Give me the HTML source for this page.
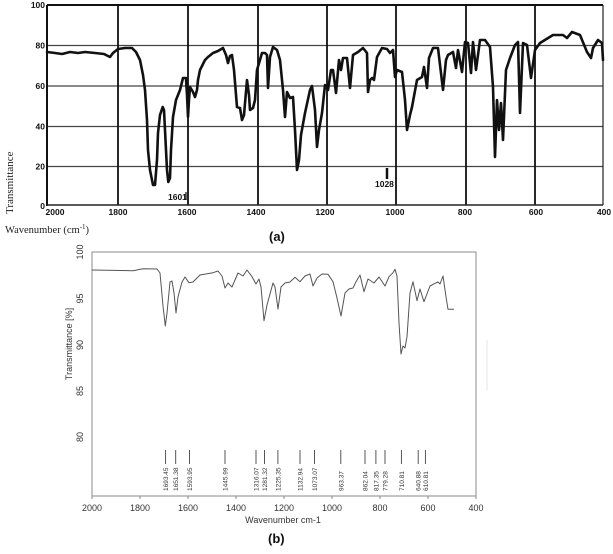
<!DOCTYPE html>
<html><head><meta charset="utf-8"><style>
html,body{margin:0;padding:0;background:#fff;}
svg{display:block;}
</style></head><body>
<svg width="613" height="554" viewBox="0 0 613 554" xmlns="http://www.w3.org/2000/svg">
<rect width="613" height="554" fill="#fff"/>
<!-- Chart (a) -->
<g>
<g stroke="#444" stroke-width="1.3">
<line x1="47" y1="45.5" x2="603" y2="45.5"/>
<line x1="47" y1="86" x2="603" y2="86"/>
<line x1="47" y1="126.5" x2="603" y2="126.5"/>
<line x1="47" y1="166.5" x2="603" y2="166.5"/>
</g>
<g stroke="#111" stroke-width="1.8">
<line x1="118" y1="5" x2="118" y2="205"/>
<line x1="188" y1="5" x2="188" y2="205"/>
<line x1="258" y1="5" x2="258" y2="205"/>
<line x1="327" y1="5" x2="327" y2="205"/>
<line x1="396" y1="5" x2="396" y2="205"/>
<line x1="466" y1="5" x2="466" y2="205"/>
<line x1="535" y1="5" x2="535" y2="205"/>
</g>
<line x1="47" y1="5" x2="603" y2="5" stroke="#111" stroke-width="2"/>
<line x1="47" y1="5" x2="47" y2="206" stroke="#111" stroke-width="2"/>
<line x1="47" y1="205" x2="603" y2="205" stroke="#222" stroke-width="1.5"/>
<line x1="603" y1="5" x2="603" y2="205" stroke="#222" stroke-width="1.2"/>
<polyline fill="none" stroke="#111" stroke-width="2.6" stroke-linejoin="round" stroke-linecap="round" points="47,52 55,53 62,54 70,52 78,53 85,52 95,53 104,54 108,56 110,57 113,53 118,49 125,48 132,48 136,52 140,60 143,75 145,90 147,120 148,150 150,170 153,185 155,185 157,160 158,133 160,115 162.7,107 164,110 165,130 167,170 168.3,182 170,178 171,150 173,117 176,100 180,90 183,78 186,78 187,95 188,117 189,100 190,87 193,92 195,97 197,90 198,80 200,70 205,60 208,57 213,53 218,51 223,48 226,55 228,63 230,56 232,55 234,70 237,107 240,108 242,120 244,115 247,80 249,95 250,110 253,108 255,100 257,70 262,53 265,53 267,55 268,88 270,57 273,47 277,50 280,60 283,90 285,117 287,92 290,98 293,97 295,130 297,170 299,160 301,135 305,113 310,90 312,86 315,110 317,147 319,130 322,113 325,85 328,90 331,70 333,70 336,93 339,60 341,70 343,58 347,58 350,88 353,55 358,52 363,48 367,53 368,92 370,80 372,78 374,80 377,57 382,48 387,49 390,53 393,50 395,77 397,70 402,72 405,100 407,130 410,115 412,107 417,80 422,77 424,67 427,88 429,58 433,48 438,48 443,90 446,60 448,55 453,52 456,68 458,50 462,72 465,42 468,43 471,73 473,42 476,70 480,40 485,40 490,47 493,87 495,157 497,100 499,130 501,103 503,140 506,70 510,58 515,45 518,42 520,113 523,43 527,45 531,78 535,50 540,43 553,35 563,35 567,38 572,32 580,35 587,52 591,58 593,48 598,40 602,43 603,60"/>
<line x1="186" y1="192" x2="186" y2="200" stroke="#111" stroke-width="1.2"/>
<line x1="387" y1="168" x2="387" y2="179" stroke="#111" stroke-width="2.5"/>
<g font-family="Liberation Sans, sans-serif" font-weight="bold" font-size="8.5" fill="#111">
<text x="168" y="200">1601</text>
<text x="375" y="187">1028</text>
<g text-anchor="end">
<text x="45" y="8">100</text>
<text x="45" y="48.5">80</text>
<text x="45" y="89">60</text>
<text x="45" y="129.5">40</text>
<text x="45" y="169.5">20</text>
<text x="45" y="209">0</text>
</g>
<g text-anchor="middle">
<text x="55" y="215">2000</text>
<text x="118" y="215">1800</text>
<text x="187" y="215">1600</text>
<text x="256" y="215">1400</text>
<text x="325" y="215">1200</text>
<text x="395" y="215">1000</text>
<text x="465" y="215">800</text>
<text x="536" y="215">600</text>
<text x="604" y="215">400</text>
</g>
</g>
<text transform="translate(13,214) rotate(-90)" font-family="Liberation Serif, serif" font-size="11" fill="#222">Transmittance</text>
<text x="5" y="233" font-family="Liberation Serif, serif" font-size="10.5" fill="#222">Wavenumber (cm<tspan font-size="7" dy="-4">-1</tspan><tspan dy="4">)</tspan></text>
<text x="269" y="241" font-family="Liberation Sans, sans-serif" font-weight="bold" font-size="13" fill="#111">(a)</text>
</g>
<!-- Chart (b) -->
<g>
<rect x="92" y="252" width="384" height="244" fill="none" stroke="#888" stroke-width="1"/>
<g stroke="#888" stroke-width="1">
<line x1="92" y1="496" x2="92" y2="499"/>
<line x1="140" y1="496" x2="140" y2="499"/>
<line x1="188" y1="496" x2="188" y2="499"/>
<line x1="236" y1="496" x2="236" y2="499"/>
<line x1="284" y1="496" x2="284" y2="499"/>
<line x1="332" y1="496" x2="332" y2="499"/>
<line x1="380" y1="496" x2="380" y2="499"/>
<line x1="428" y1="496" x2="428" y2="499"/>
<line x1="476" y1="496" x2="476" y2="499"/>
</g>
<line x1="487" y1="340" x2="487" y2="390" stroke="#e4e4e4" stroke-width="1"/>
<polyline fill="none" stroke="#555" stroke-width="1" stroke-linejoin="round" points="92,270 133,270.7 143,268.7 157,269 160,273 163,306 165.3,326 167,313 170,282 172,281 174,293 176,313 178,297 182,282 185,277 189,282.7 193,282 200,275 213,272.7 218,271 222,276 225,288 228,283 232,287 238,273 243,276 247,270 252,276.7 256,284 259,279 261,287 264,320.7 267,305 273,283 275,287 278,309 281,287 285,283 290,282 295,277.3 300,281.7 305,276 310,274 313,286 317,278 322,274 328,274.3 333,281.7 337,298 341,316 345,293 349,289 353,288 356,281.7 360,275 364,291.7 368,279 374,283 379,277 385,286 389,276.7 393,272.7 395,269.3 397,276 399,323 401,354 403,346 405,348 407,336.7 410,293 413,281.7 417,300.7 420,289 424,301.7 430,286 435,283.3 438,282 440,284 443,276 446,296.7 448,309.3 452,309.3 454,309.3"/>
<g stroke="#444" stroke-width="0.9">
<line x1="165.6" y1="450" x2="165.6" y2="464"/>
<line x1="175.7" y1="450" x2="175.7" y2="464"/>
<line x1="189.5" y1="450" x2="189.5" y2="464"/>
<line x1="225" y1="450" x2="225" y2="464"/>
<line x1="256" y1="450" x2="256" y2="464"/>
<line x1="264.5" y1="450" x2="264.5" y2="464"/>
<line x1="277.9" y1="450" x2="277.9" y2="464"/>
<line x1="300" y1="450" x2="300" y2="464"/>
<line x1="314.5" y1="450" x2="314.5" y2="464"/>
<line x1="340.8" y1="450" x2="340.8" y2="464"/>
<line x1="365" y1="450" x2="365" y2="464"/>
<line x1="375.9" y1="450" x2="375.9" y2="464"/>
<line x1="385" y1="450" x2="385" y2="464"/>
<line x1="401.4" y1="450" x2="401.4" y2="464"/>
<line x1="418.2" y1="450" x2="418.2" y2="464"/>
<line x1="425.4" y1="450" x2="425.4" y2="464"/>
</g>
<g font-family="Liberation Sans, sans-serif" font-size="6.5" fill="#333">
<text transform="translate(168,491) rotate(-90)">1693.45</text>
<text transform="translate(178,491) rotate(-90)">1651.38</text>
<text transform="translate(192,491) rotate(-90)">1593.95</text>
<text transform="translate(227.5,491) rotate(-90)">1445.99</text>
<text transform="translate(258.5,491) rotate(-90)">1316.07</text>
<text transform="translate(267,491) rotate(-90)">1281.32</text>
<text transform="translate(280.5,491) rotate(-90)">1225.35</text>
<text transform="translate(302.5,491) rotate(-90)">1132.94</text>
<text transform="translate(317,491) rotate(-90)">1073.07</text>
<text transform="translate(343.3,491) rotate(-90)">963.37</text>
<text transform="translate(367.5,491) rotate(-90)">862.04</text>
<text transform="translate(378.4,491) rotate(-90)">817.35</text>
<text transform="translate(387.5,491) rotate(-90)">779.28</text>
<text transform="translate(404,491) rotate(-90)">710.81</text>
<text transform="translate(420.7,491) rotate(-90)">640.88</text>
<text transform="translate(428,491) rotate(-90)">610.81</text>
</g>
<g font-family="Liberation Sans, sans-serif" font-size="9" fill="#333" text-anchor="middle">
<text x="92" y="511">2000</text>
<text x="140" y="511">1800</text>
<text x="188" y="511">1600</text>
<text x="236" y="511">1400</text>
<text x="284" y="511">1200</text>
<text x="332" y="511">1000</text>
<text x="380" y="511">800</text>
<text x="428" y="511">600</text>
<text x="476" y="511">400</text>
<text transform="translate(83,252) rotate(-90)">100</text>
<text transform="translate(83,298.5) rotate(-90)">95</text>
<text transform="translate(83,345) rotate(-90)">90</text>
<text transform="translate(83,391) rotate(-90)">85</text>
<text transform="translate(83,437) rotate(-90)">80</text>
<text transform="translate(72,344) rotate(-90)">Transmittance [%]</text>
<text x="283" y="523">Wavenumber cm-1</text>
</g>
<text x="268" y="543" font-family="Liberation Sans, sans-serif" font-weight="bold" font-size="13" fill="#111">(b)</text>
</g>
</svg>
</body></html>
